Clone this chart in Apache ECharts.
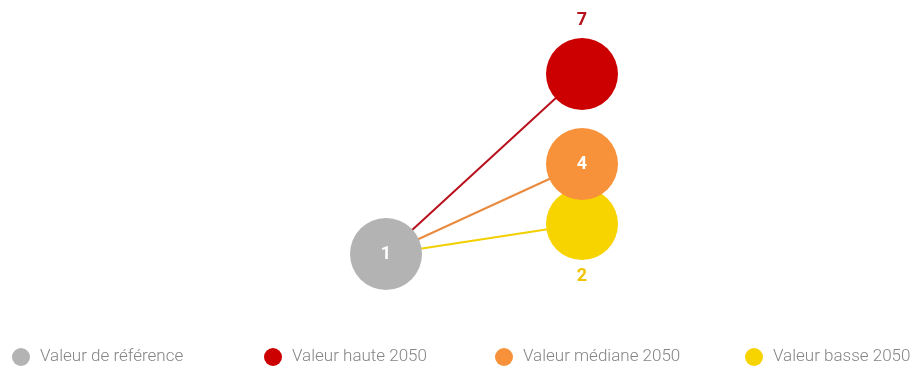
<!DOCTYPE html>
<html>
<head>
<meta charset="utf-8">
<style>html,body{margin:0;padding:0;background:#fff;}#c{width:914px;height:371px;}</style>
<script src="https://cdn.jsdelivr.net/npm/echarts@6/dist/echarts.min.js"></script>
</head>
<body>
<div id="c"></div>
<script>
const seriesNames = ['Valeur de référence', 'Valeur haute 2050', 'Valeur médiane 2050', 'Valeur basse 2050'];
const seriesValues = [1, 7, 4, 2];
const periods = [0, 1, 1, 1]; // 0 = référence, 1 = 2050
const circleColors = ['#b3b3b3', '#cc0000', '#f7923a', '#f7d300'];
const lineColors = ['#b3b3b3', '#b8101c', '#ea8a3e', '#f2d000'];
const labelColors = ['#ffffff', '#b5121b', '#ffffff', '#f0c400'];
const labelPositions = ['inside', 'top', 'inside', 'bottom'];
const circleZ = [3, 3, 4, 3];
const legendLefts = [12, 264, 495, 745];

const chart = echarts.init(document.getElementById('c'));
const series = [];
// connecting lines (under circles)
for (let i = 1; i < seriesNames.length; i++) {
  series.push({
    type: 'line',
    name: 'link' + i,
    data: [[periods[0], seriesValues[0]], [periods[i], seriesValues[i]]],
    symbol: 'none',
    lineStyle: { color: lineColors[i], width: 2 },
    z: 1,
    silent: true
  });
}
seriesNames.forEach((name, i) => {
  series.push({
    type: 'scatter',
    name: name,
    data: [[periods[i], seriesValues[i]]],
    symbolSize: 72,
    itemStyle: { color: circleColors[i], opacity: 1 },
    z: circleZ[i],
    label: {
      show: true,
      position: labelPositions[i],
      distance: labelPositions[i] === 'top' ? 9 : 7,
      formatter: String(seriesValues[i]),
      color: labelColors[i],
      fontFamily: 'Roboto',
      fontWeight: 'bold',
      fontSize: 18
    }
  });
});

const legends = seriesNames.map((name, i) => ({
  data: [{ name: name, icon: 'circle' }],
  left: legendLefts[i],
  top: 348,
  padding: 0,
  itemWidth: 18,
  itemHeight: 18,
  selectedMode: false,
  textStyle: { color: '#858585', fontFamily: 'Roboto', fontSize: 17, fontWeight: 300, padding: [0, 0, 0, 5] }
}));

chart.setOption({
  animation: false,
  backgroundColor: '#ffffff',
  grid: { left: 386, right: 332, top: 44, bottom: 87 },
  xAxis: { type: 'value', min: 0, max: 1, show: false },
  yAxis: { type: 'value', min: 0, max: 8, show: false },
  legend: legends,
  series: series
});
</script>
</body>
</html>
